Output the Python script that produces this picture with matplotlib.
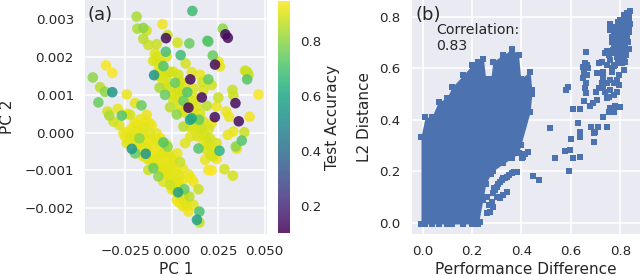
import matplotlib
matplotlib.use('Agg')
import matplotlib.pyplot as plt
import numpy as np

# Panel (a): PCA scatter
pc1 = [11.1, -18.9, -5.0, -18.5, -15.3, -13.5, 27.5, 28.9, 30.2, -3.1, -2.2, -15.3, 19.2, 19.7, 3.1, 9.5,
       -12.6, -8.1, -3.2, 4.8, 22.1, -9.0, -2.7, 25.1, 23.3, 26.0, 7.5, -8.1, -4.5, -35.4, -32.0, -42.5,
       -9.5, 39.5, 40.6, 41.4, 40.6, 19.7, 10.0, 10.8, 15.3, 16.5, 21.5, 1.8, 3.6, -0.9, -7.2, -4.5, -6.6,
       -3.6, -0.9, 4.5, 8.4, 6.3, 16.2, 12.6, 25.1, 32.7, 33.2, 46.7, 34.3, 18.9, 9.0, 24.2, 29.3, 30.9,
       23.2, 36.1, 41.9, -0.9, 2.7, 9.9, 10.8, 14.7, 6.3, 16.2, 21.5, 33.2, 30.2, 39.1, 37.7, 34.5, 35.0,
       14.4, 25.7, 20.6, 9.9, 7.2, 17.1, 21.5, 24.2, 18.0, 19.7, 21.5, 28.4, 32.9,
       -39.5, -38.6, -35.9, -32.0, -24.2, -19.7, -16.3, -29.1, -34.6, -33.6, -31.4, -28.2, -26.9, -22.4,
       -18.0, -21.5, -25.1, -13.5, -10.8, -15.3, -17.4, -21.5, -19.7, -14.0, -12.6, -8.1, -4.5, -2.2,
       -8.1, -0.9, -9.9, -7.2, -12.6, -4.5, 4.5, 1.8, -0.9, 10.4, 11.7, 14.4, 6.8, 3.4, 9.5, 2.7, 11.7,
       9.0, 14.9, 13.6, 14.9]
pc2 = [3.22, 3.07, 2.87, 2.75, 2.77, 2.70, 2.75, 2.60, 2.51, 2.50, 2.58, 2.48, 2.43, 2.41, 2.38, 2.36,
       2.32, 2.34, 2.14, 2.05, 2.04, 2.10, 2.01, 1.88, 1.80, 1.75, 1.83, 1.88, 1.76, 1.78, 1.58, 1.46,
       1.52, 1.64, 1.61, 1.53, 1.41, 1.41, 1.41, 1.60, 1.53, 1.33, 1.26, 1.32, 1.53, 1.61, 1.66, 1.39, 1.19,
       1.00, 1.20, 1.13, 1.07, 0.84, 0.93, 0.91, 0.93, 1.13, 0.98, 1.01, 0.78, 0.71, 0.66, 0.69, 0.56, 0.42,
       0.41, 0.30, 0.42, 0.67, 0.48, 0.34, 0.38, 0.34, 0.16, 0.11, 0.25, 0.03, -0.06, 0.01, -0.21, -0.37, -0.43,
       -0.42, -0.48, -0.15, -0.11, -0.28, -0.30, -0.41, -0.70, -0.72, -0.99, -1.00, -0.97, -1.14,
       0.80, 1.20, 1.08, 1.07, 1.01, 0.78, 0.72, 0.63, 0.56, 0.45, 0.29, 0.20, 0.45, 0.47,
       0.20, 0.11, -0.11, 0.47, 0.20, -0.02, -0.15, -0.43, -0.55, -0.56, -0.24, -0.02, -0.26, -0.37,
       -0.46, -0.63, -0.94, -1.16, -0.99, -0.81, -0.78, -1.03, -1.38, -1.21, -1.30, -1.50, -1.50, -1.58, -1.69, -1.78, -1.91,
       -2.09, -2.09, -2.31, -2.38]
test_acc = [.68, .84, .93, .84, .80, .89, .80, .12, .12, .12, .88, .86, .72, .72, .89, .75,
            .88, .88, .70, .68, .75, .91, .91, .92, .12, .92, .89, .91, .72, .94, .94, .80,
            .55, .88, .88, .88, .72, .75, .12, .91, .92, .89, .89, .75, .89, .89, .92, .91, .84,
            .75, .89, .89, .72, .75, .12, .91, .88, .88, .88, .94, .12, .86, .12, .92, .92, .92,
            .12, .12, .93, .86, .80, .60, .62, .75, .86, .89, .92, .92, .92, .88, .72, .80, .92,
            .72, .65, .89, .91, .91, .92, .92, .93, .92, .94, .94, .89, .89,
            .75, .86, .80, .55, .92, .91, .75, .92, .89, .84, .89, .91, .72, .89,
            .92, .93, .93, .92, .92, .92, .80, .55, .75, .55, .92, .92, .72, .80,
            .92, .93, .75, .80, .88, .92, .88, .93, .88, .93, .93, .88, .75, .58, .86, .92, .91,
            .93, .70, .58, .88]

# the yellow mass of overlapping dots in both bands
band_pc1 = [-20.6, -18.0, -15.3, -11.7, -8.1, -6.3, -3.6, -0.9, -2.7, 0.9, 3.6, 5.4, 7.2, 0.9, -4.5, -8.1,
            -11.7, -15.3, -18.9, -22.4, -24.2, -13.5, -16.2, -1.8, -4.5, -0.9, 3.6,
            -24, -21, -19, -16, -14, -12, -10, -9, -7, -6, -5, -11, -13, -10, -7, -5, -3, -2, 0, 1, -1, 2, 0, 2,
            4, 6, 7, 4, 6, 8, -12, -14, -17, -20, -24, -26, -23, -6, -3, 3, 6, 9,
            -6.3, -2.7, 0.9, 4.5, 7.2, 9.9, 13.5, 15.3, 0.9, 4.5, 8.1, 13.5, 15.3, 18.9, 22.4, 18.9, 24.2,
            2.7, 11.7, 17.1, -10, -8, -6, -7, -5, -3, 1, 3, 6, 8, 11, 12, 6, 10, 12, 14, 17, 20, 21, 13, 17, 20]
band_pc2 = [-0.19, -0.37, -0.63, -0.72, -0.72, -0.90, -1.08, -1.16, -0.90, -1.34, -1.43, -1.69, -1.87, -0.72, -0.55, -0.19,
            -0.02, 0.11, 0.03, -0.11, -0.28, -0.41, -0.37, -0.55, -1.30, -0.94, -1.12,
            .02, -.03, -.25, -.25, -.15, -.35, -.2, -.6, -.35, -.55, -.7, -.6, -.7, -.8, -.85, -1.0, -.7, -1.1, -.85, -1.0, -1.25, -1.3, -1.5, -1.55,
            -1.3, -1.25, -1.65, -1.85, -1.95, -1.95, .25, .3, .35, .25, .5, -.02, -.2, -.15, -.3, -.55, -.95, -1.1,
            1.61, 1.48, 1.61, 1.35, 1.31, 0.86, 0.69, 0.51, 0.86, 0.69, 0.51, 0.16, -0.02, -0.19, -0.63, -0.46, -0.28,
            0.95, 1.17, 1.13, 1.9, 2.0, 1.85, 1.5, 1.55, 1.25, 1.0, 1.1, 1.05, .75, .65, .45, .55, .15, .1, -.1, -.05, -.35, -.6, .3, .3, .1]
band_acc = [.91] * 27 + [.92] * 42 + [.90] * 42

# Panel (b): the dense mass as a per-column envelope, plus the separate points
blob_x = [-.007, .01, .036, .064, .097, .118, .165, .20, .225, .246, .255, .276, .284, .327, .361, .388, .397, .435, .442]
blob_hi = [.334, .41, .41, .47, .483, .526, .574, .613, .625, .635, .56, .56, .626, .652, .674, .652, .56, .587, .515]
blob_lo = [-.005, -.005, -.005, -.005, -.005, -.005, -.005, -.005, -.005, .10, .15, .19, .20, .23, .25, .27, .30, .43, .50]

perf_diff = [.428, .415, .405, .401, .381, .361, .341, .327, .314, .30, .293, .341, .327, .314, .286, .273, .259, .246, .259, .286, .232,
             .37, .35, .335, .32, .305, .29, .27, .28, .30,
             .446, .472, .514, .534, .581, .588, .578, .597, .593, .601, .608, .635, .608, .635, .628, .635, .635, .681, .708, .746, .692, .695, .699,
             .66, .658, .665, .651, .668, .655, .665, .651, .662, .658, .662, .655, .676, .688, .706, .70, .712, .732, .746,
             .841, .827, .814, .834, .80, .759, .82, .793, .834, .773, .814, .759, .80, .827, .786, .773, .814, .834, .80, .746, .739,
             .786, .759, .726, .712, .82, .807, .78, .746, .732, .766, .814, .705, .793, .732, .759, .786, .726, .773, .793, .712,
             .739, .759, .786, .753, .773, .746, .759, .753, .732, .773, .78, .797, .82, .766, .786, .807,
             .82, .81, .79, .825, .80, .78, .80, .77, .82, .79, .81,
             .835, .825, .815, .805, .84, .83, .82, .81, .80, .79, .78, .77, .835, .825, .815, .805, .795, .785, .775,
             .765, .83, .82, .81, .80, .79, .78, .77, .76, .755, .825, .815, .80, .79, .775, .765]
l2_dist = [.276, .266, .256, .25, .198, .192, .179, .172, .159, .14, .127, .12, .108, .095, .062, .043, .036, .088, .101, .114, .004,
           .195, .185, .175, .165, .15, .135, .07, .08, .10,
           .181, .166, .368, .253, .515, .528, .278, .282, .20, .325, .251, .257, .442, .442, .386, .353, .334, .37, .373, .373, .315, .347, .353,
           .662, .619, .612, .606, .599, .586, .574, .561, .541, .522, .503, .474, .453, .464, .477, .509, .522, .522, .541,
           .824, .816, .807, .794, .788, .772, .775, .762, .755, .742, .736, .749, .716, .723, .697, .69, .697, .674, .671, .668, .658,
           .645, .632, .626, .619, .626, .619, .613, .613, .587, .587, .593, .58, .574, .561, .554, .554, .541, .541, .535, .522,
           .509, .516, .509, .49, .496, .483, .444, .431, .412, .431, .453, .451, .684, .723, .736, .755,
           .80, .78, .78, .76, .74, .72, .70, .71, .71, .68, .67,
           .81, .80, .79, .78, .77, .77, .76, .75, .76, .77, .75, .76, .74, .74, .73, .75, .72, .73, .72,
           .70, .70, .68, .66, .69, .65, .66, .67, .66, .65, .65, .64, .62, .63, .61, .60]

text_col = '#262626'
fig = plt.figure(figsize=(6.4, 2.76), dpi=100)
W, H = 640, 276

ax1 = fig.add_axes([85/W, 1 - 233.5/H, 182/W, 233.5/H])
ax2 = fig.add_axes([411.7/W, 1 - 233.5/H, 228.3/W, 233.5/H])
cax = fig.add_axes([278/W, 1 - 233/H, 12/W, 232/H])

for ax in (ax1, ax2):
    ax.set_facecolor('#EAEAF2')
    ax.grid(True, color='white', lw=1.1)
    ax.set_axisbelow(True)
    for s in ax.spines.values():
        s.set_visible(False)
    ax.tick_params(length=0, labelsize=9.6, labelcolor=text_col, pad=8)

# (a)
x1 = np.array(pc1 + band_pc1) / 1000
y1 = np.array(pc2 + band_pc2) / 1000
acc = np.array(test_acc + band_acc)
order = np.argsort(-acc)
sc = ax1.scatter(x1[order], y1[order], c=acc[order], cmap='viridis', vmin=0.10, vmax=0.948,
                 s=58, alpha=0.85, linewidths=0)
ax1.set_xlim(-0.0467, 0.0513)
ax1.set_ylim(-0.00267, 0.00351)
ax1.set_xticks([-0.025, 0, 0.025, 0.05])
ax1.set_xticklabels(['\u22120.025', '0.000', '0.025', '0.050'])
ax1.set_yticks([-0.002, -0.001, 0, 0.001, 0.002, 0.003])
ax1.set_yticklabels(['\u22120.002', '\u22120.001', '0.000', '0.001', '0.002', '0.003'])
ax1.set_xlabel('PC 1', fontsize=11, color=text_col, labelpad=3)
ax1.set_ylabel('PC 2', fontsize=11, color=text_col, labelpad=7)
ax1.text(0.015, 0.975, '(a)', transform=ax1.transAxes, fontsize=13, color=text_col, va='top')

cb = fig.colorbar(sc, cax=cax)
cb.outline.set_visible(False)
cb.set_ticks([0.2, 0.4, 0.6, 0.8])
cb.ax.tick_params(length=0, labelsize=9.6, labelcolor=text_col, pad=7)
cb.set_label('Test Accuracy', fontsize=11, color=text_col, labelpad=3)

# (b)
blue = '#4C72B0'
ax2.fill_between(blob_x, blob_lo, blob_hi, color=blue, lw=0)
ax2.scatter(blob_x + blob_x, blob_hi + blob_lo, marker='s', s=18, color=blue, linewidths=0)
ax2.scatter(perf_diff, l2_dist, marker='s', s=18, color=blue, linewidths=0)
ax2.set_xlim(-0.0446, 0.88)
ax2.set_ylim(-0.042, 0.865)
ax2.set_xticks([0, 0.2, 0.4, 0.6, 0.8])
ax2.set_yticks([0, 0.2, 0.4, 0.6, 0.8])
ax2.set_xlabel('Performance Difference', fontsize=11, color=text_col, labelpad=3)
ax2.set_ylabel('L2 Distance', fontsize=11, color=text_col, labelpad=5)
ax2.text(0.015, 0.975, '(b)', transform=ax2.transAxes, fontsize=13, color=text_col, va='top')
ax2.text(0.055, 0.775, 'Correlation:\n0.83', fontsize=10.2, color=text_col, va='top', linespacing=1.15)

plt.savefig('out.png', dpi=100)
